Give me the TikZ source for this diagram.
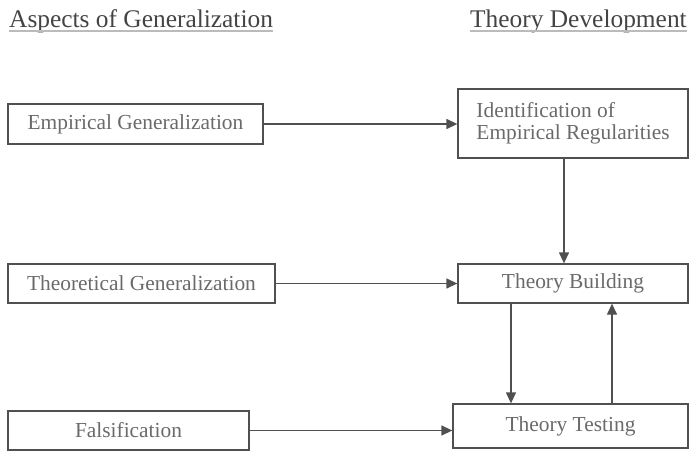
\documentclass[tikz,border=0pt]{standalone}
\usepackage{fontspec}
\setmainfont{Liberation Serif}
\usetikzlibrary{arrows.meta}
\definecolor{linegray}{HTML}{505050}
\definecolor{textgray}{HTML}{6A6A6A}
\definecolor{headgray}{HTML}{444444}
\definecolor{rulegray}{HTML}{BBBBBB}
\begin{document}
\begin{tikzpicture}[x=1pt,y=-1pt,
  box/.style={draw=linegray,line width=1.3pt,inner sep=0pt,text=textgray,font=\fontsize{21.4}{22.5}\selectfont},
  link/.style={draw=linegray,line width=1.3pt,-{Triangle[length=11pt,width=10pt]}},
  head/.style={inner sep=0pt,anchor=base west,text=headgray,font=\fontsize{25.4}{27}\selectfont}]
\useasboundingbox (0,0) rectangle (691,452);
% column headings
\node[head] (h1) at (9,28) {Aspects of Generalization};
\node[head] (h2) at (470,28) {Theory Development};
\draw[rulegray,line width=1.8pt] (h1.base west) ++(0,3) coordinate (u1a) -- (u1a -| h1.east);
\draw[rulegray,line width=1.8pt] (h2.base west) ++(0,3) coordinate (u2a) -- (u2a -| h2.east);
% left column
\node[box,minimum width=255pt,minimum height=40pt] (emp) at (135.5,124) {Empirical Generalization};
\node[box,minimum width=267pt,minimum height=39pt] (theo) at (141.5,283.5) {Theoretical Generalization};
\node[box,minimum width=241pt,minimum height=39pt] (fals) at (128.5,430.5) {Falsification};
% right column
\node[box,minimum width=230pt,minimum height=69pt,align=left] (ident) at (573,123.5) {Identification of\\Empirical Regularities};
\node[box,minimum width=230pt,minimum height=39pt] (build) at (573,283.5) {Theory Building};
\node[box,minimum width=235pt,minimum height=44pt] (test) at (570.5,426) {Theory Testing};
% connectors
\draw[link] (emp.east) -- (emp.east -| ident.west);
\draw[link] (theo.east) -- (theo.east -| build.west);
\draw[link] (fals.east) -- (fals.east -| test.west);
\draw[link] ([xshift=-9pt]ident.south) -- ([xshift=-9pt]ident.south |- build.north);
\draw[link] ([xshift=-62pt]build.south) -- ([xshift=-62pt]build.south |- test.north);
\draw[link] ([xshift=39pt]build.south |- test.north) -- ([xshift=39pt]build.south);
\end{tikzpicture}
\end{document}
